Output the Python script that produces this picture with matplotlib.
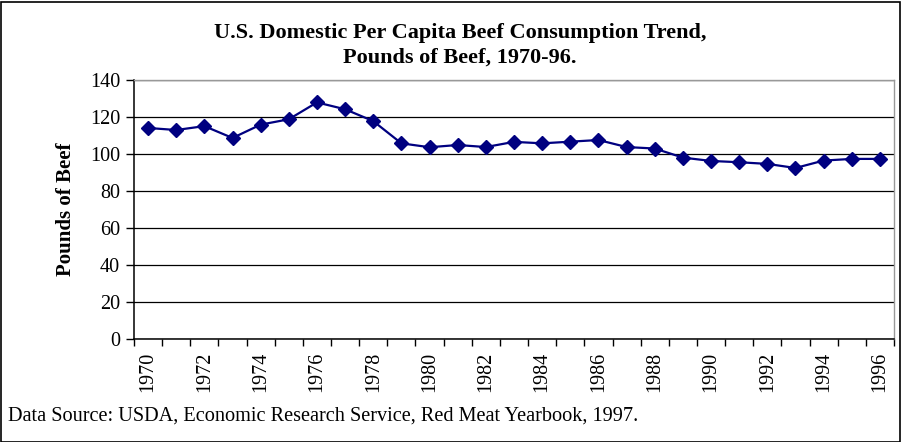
import matplotlib
matplotlib.use("Agg")
import matplotlib.pyplot as plt
from matplotlib.patches import Rectangle
import numpy as np

years = list(range(1970, 1997))
beef = [114.1, 113.0, 115.1, 108.7, 115.9, 118.8, 127.9, 124.2, 117.8, 105.8,
        103.7, 104.9, 103.8, 106.6, 105.8, 106.7, 107.6, 103.8, 103.0, 98.1,
        96.3, 95.6, 94.7, 92.5, 96.5, 97.4, 97.4]
yticks = [0, 20, 40, 60, 80, 100, 120, 140]
title = "U.S. Domestic Per Capita Beef Consumption Trend,\nPounds of Beef, 1970-96."
ylabel = "Pounds of Beef"
source = "Data Source: USDA, Economic Research Service, Red Meat Yearbook, 1997."

plt.rcParams['font.family'] = ['Liberation Serif', 'DejaVu Serif']

W, H = 901, 442
fig = plt.figure(figsize=(W / 100, H / 100), dpi=100)
ax = fig.add_axes([134 / W, 1 - 339.3 / H, (894 - 134) / W, (339.3 - 80) / H])

x = np.arange(len(years))
ax.plot(x, beef, color='#000080', lw=1.6, marker='D', markersize=7, zorder=3)

ax.set_xlim(-0.5, len(years) - 0.5)
ax.set_ylim(0, 140)
ax.set_yticks(yticks)
ax.set_yticklabels([str(v) for v in yticks], fontsize=14.5)
ax.yaxis.grid(True, color='black', lw=0.9)
ax.set_axisbelow(True)

ax.set_xticks(np.arange(len(years) + 1) - 0.5, minor=False)
ax.set_xticklabels([])
ax.set_xticks(x[::2], minor=True)
ax.set_xticklabels([str(y) for y in years[::2]], minor=True, rotation=90, fontsize=14.5)
ax.tick_params(axis='x', which='major', direction='out', length=5, width=1)
ax.tick_params(axis='x', which='minor', length=0, pad=9)
ax.tick_params(axis='y', direction='out', length=6, width=1, pad=4)

for s in ['left', 'bottom']:
    ax.spines[s].set_color('black')
    ax.spines[s].set_linewidth(1.1)
for s in ['top', 'right']:
    ax.spines[s].set_color('#999999')
    ax.spines[s].set_linewidth(1)

ax.set_ylabel(ylabel, fontsize=15, fontweight='bold', labelpad=10)

fig.text(460 / W, 1 - 45.5 / H, title, ha='center', va='center', fontsize=16,
         fontweight='bold', linespacing=1.3)
fig.text(8 / W, 1 - 421 / H, source, ha='left', va='baseline', fontsize=14.6)

fig.patches.append(Rectangle((0.5 / W, 0.5 / H), (W - 1.5) / W, (H - 2) / H,
                             transform=fig.transFigure, fill=False,
                             edgecolor='black', lw=1.2))

fig.savefig("out.png", dpi=100)
